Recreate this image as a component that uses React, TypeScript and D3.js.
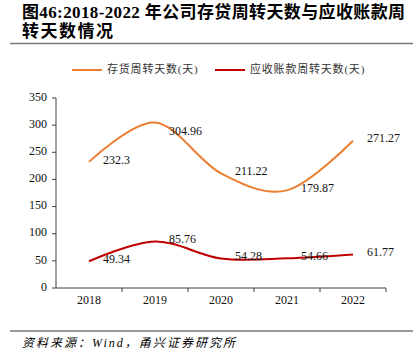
import * as d3 from 'd3';

const years = ['2018', '2019', '2020', '2021', '2022'];
const inventoryDays = [232.3, 304.96, 211.22, 179.87, 271.27];
const receivableDays = [49.34, 85.76, 54.28, 54.66, 61.77];
const yTicks = [0, 50, 100, 150, 200, 250, 300, 350];

const seriesNames = ['存货周转天数(天)', '应收账款周转天数(天)'];
const colors = ['#ED7D31', '#C00000'];

const serif = '"Liberation Serif", "Noto Sans CJK SC", serif';

export default function App() {
  const width = 420;
  const height = 360;

  // zone du graphe
  const left = 56;
  const right = 386;
  const top = 98;
  const bottom = 288;

  const x = d3.scaleBand<string>().domain(years).range([left, right]).padding(0);
  const y = d3.scaleLinear().domain([0, 350]).range([bottom, top]);

  const cx = (yr: string) => (x(yr) ?? 0) + x.bandwidth() / 2;

  const line = d3
    .line<number>()
    .x((_, i) => cx(years[i]))
    .y((d) => y(d))
    .curve(d3.curveCardinal.tension(0));

  const series = [inventoryDays, receivableDays];
  const boundaries = years.map((yr) => (x(yr) ?? 0) + x.bandwidth());

  return (
    <svg
      width={width}
      height={height}
      style={{ position: 'absolute', left: 0, top: 0, background: '#fff' }}
      fontFamily={serif}
    >
      {/* titre */}
      <text x={22} y={18} fontSize={17} fontWeight="bold" fill="#000" textLength={383} lengthAdjust="spacing">
        图46:2018-2022 年公司存贷周转天数与应收账款周
      </text>
      <text x={22} y={37} fontSize={17} fontWeight="bold" fill="#000" letterSpacing={1.5}>
        转天数情况
      </text>
      <line x1={10} x2={413} y1={43.5} y2={43.5} stroke="#777" strokeWidth={1.5} />

      {/* légende */}
      {seriesNames.map((name, i) => {
        const lx = i === 0 ? 72 : 215;
        return (
          <g key={name}>
            <line x1={lx} x2={lx + 30} y1={70} y2={70} stroke={colors[i]} strokeWidth={2} />
            <text x={lx + 35} y={70} fontSize={11} dominantBaseline="middle" fill="#333" letterSpacing={0.8}>
              {name}
            </text>
          </g>
        );
      })}

      {/* axe y */}
      <line x1={left} x2={left} y1={top} y2={bottom} stroke="#404040" strokeWidth={1} />
      {yTicks.map((t) => (
        <g key={t}>
          <line x1={left - 4} x2={left} y1={y(t)} y2={y(t)} stroke="#404040" />
          <text x={47} y={y(t)} fontSize={12} textAnchor="end" dominantBaseline="middle" fill="#111">
            {t}
          </text>
        </g>
      ))}

      {/* axe x */}
      <line x1={left} x2={right} y1={bottom} y2={bottom} stroke="#404040" strokeWidth={1} />
      {boundaries.map((bx) => (
        <line key={bx} x1={bx} x2={bx} y1={bottom} y2={bottom + 4} stroke="#404040" />
      ))}
      {years.map((yr) => (
        <text key={yr} x={cx(yr)} y={301} fontSize={12} textAnchor="middle" dominantBaseline="middle" fill="#111">
          {yr}
        </text>
      ))}

      {/* courbes */}
      {series.map((s, i) => (
        <path key={i} d={line(s) ?? ''} fill="none" stroke={colors[i]} strokeWidth={2} />
      ))}

      {/* étiquettes */}
      {series.map((s, i) =>
        s.map((v, j) => (
          <text
            key={`${i}-${j}`}
            x={cx(years[j]) + 14}
            y={y(v) + (j === 1 && i === 0 ? 10 : -1)}
            fontSize={12}
            dominantBaseline="middle"
            fill="#111"
          >
            {v}
          </text>
        ))
      )}

      <line x1={10} x2={413} y1={331} y2={331} stroke="#777" strokeWidth={1.5} />
      <text x={22} y={347} fontSize={12} fontStyle="italic" fill="#000" textLength={213} lengthAdjust="spacing">
        资料来源：Wind，甬兴证券研究所
      </text>
    </svg>
  );
}
